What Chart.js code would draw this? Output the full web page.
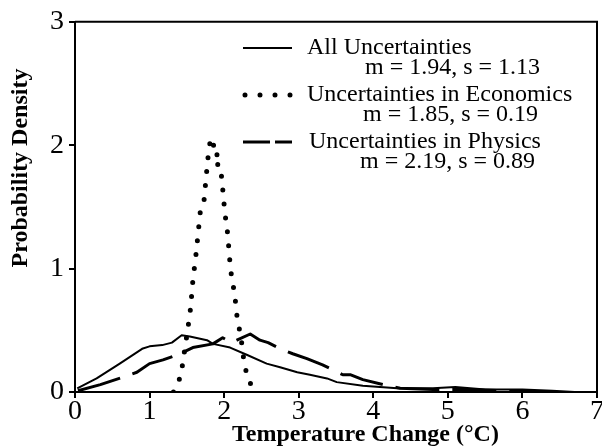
<!DOCTYPE html>
<html>
<head>
<meta charset="utf-8">
<title>Probability Density</title>
<script src="https://cdn.jsdelivr.net/npm/chart.js@4.4.1/dist/chart.umd.min.js"></script>
<style>
    html, body { margin: 0; padding: 0; background: #fff; }
    .chart-wrapper { position: relative; width: 602px; height: 448px; }
</style>
</head>
<body>
<div class="chart-wrapper">
    <canvas id="densityChart" width="602" height="448"></canvas>
</div>
<script>
/* ======= Данные ======= */
const seriesNames = ["All Uncertainties", "Uncertainties in Economics", "Uncertainties in Physics"];
const seriesMeans = [1.94, 1.85, 2.19];
const seriesSds = [1.13, 0.19, 0.89];

const xTicks = [0, 1, 2, 3, 4, 5, 6, 7];
const yTicks = [0, 1, 2, 3];
const xTitle = "Temperature Change (°C)";
const yTitle = "Probability Density";

// все неопределённости: [температура, плотность]
const allPoints = [
    [0.03, 0.03], [0.29, 0.11], [0.60, 0.23], [0.90, 0.35], [1.00, 0.37], [1.17, 0.38],
    [1.30, 0.40], [1.43, 0.46], [1.54, 0.45], [1.77, 0.42], [1.85, 0.39], [2.08, 0.36],
    [2.31, 0.30], [2.57, 0.23], [2.75, 0.20], [2.98, 0.16], [3.15, 0.14], [3.38, 0.11],
    [3.51, 0.08], [3.86, 0.05], [4.32, 0.03], [4.80, 0.03], [5.10, 0.04], [5.50, 0.02],
    [6.00, 0.02], [6.40, 0.01], [6.70, 0.00]
];

// только экономика
const econPoints = [
    [1.32, 0.00], [1.42, 0.13], [1.46, 0.30], [1.51, 0.50], [1.55, 0.68], [1.58, 0.90],
    [1.62, 1.10], [1.66, 1.34], [1.68, 1.46], [1.73, 1.55], [1.76, 1.75], [1.79, 1.94],
    [1.82, 2.06], [1.87, 1.98], [1.84, 1.93], [1.92, 1.92], [1.87, 1.85], [1.95, 1.84],
    [1.98, 1.65], [2.01, 1.45], [2.05, 1.27], [2.07, 1.10], [2.10, 0.93], [2.14, 0.80],
    [2.18, 0.57], [2.22, 0.47], [2.27, 0.23], [2.31, 0.13], [2.40, 0.00]
];

// только физика
const physPoints = [
    [0.04, 0.01], [0.34, 0.06], [0.64, 0.12], [0.83, 0.16], [1.00, 0.23], [1.18, 0.26],
    [1.41, 0.31], [1.58, 0.36], [1.85, 0.39], [1.98, 0.44], [2.10, 0.40], [2.17, 0.42],
    [2.35, 0.47], [2.48, 0.42], [2.59, 0.40], [2.75, 0.35], [2.92, 0.31], [3.11, 0.27],
    [3.32, 0.22], [3.46, 0.18], [3.59, 0.14], [3.69, 0.14], [3.86, 0.10], [4.13, 0.06],
    [4.36, 0.03], [4.80, 0.02], [5.30, 0.02], [5.80, 0.01], [6.30, 0.00]
];

const SERIF = "'Liberation Serif', 'Times New Roman', serif";

document.addEventListener("DOMContentLoaded", () => {
    const toXY = arr => arr.map(p => ({ x: p[0], y: p[1] }));

    const lineStyles = [
        { borderWidth: 2, borderDash: [], borderCapStyle: 'butt' },
        { borderWidth: 5, borderDash: [0, 14], borderCapStyle: 'round' },
        { borderWidth: 3, borderDash: [44, 13], borderCapStyle: 'butt' }
    ];

    // рамка сверху и справа, подписи осей и легенда
    const framePlugin = {
        id: 'frameAndLegend',
        afterDraw(chart) {
            const { ctx, chartArea } = chart;
            ctx.save();
            ctx.strokeStyle = '#000';
            ctx.lineWidth = 2;
            ctx.beginPath();
            ctx.moveTo(chartArea.left, chartArea.top);
            ctx.lineTo(chartArea.right, chartArea.top);
            ctx.lineTo(chartArea.right, chartArea.bottom);
            ctx.stroke();

            // подпись оси X
            ctx.fillStyle = '#000';
            ctx.font = "bold 24px " + SERIF;
            ctx.textAlign = 'left';
            ctx.textBaseline = 'alphabetic';
            ctx.fillText(xTitle, 232, 441);

            // подпись оси Y
            ctx.textAlign = 'center';
            ctx.textBaseline = 'middle';
            ctx.translate(21, 168);
            ctx.rotate(-Math.PI / 2);
            ctx.fillText(yTitle, 0, 0);
            ctx.restore();

            // легенда
            ctx.save();
            ctx.fillStyle = '#000';
            ctx.strokeStyle = '#000';
            ctx.font = "24px " + SERIF;
            ctx.textBaseline = 'alphabetic';
            ctx.textAlign = 'left';
            const nameX = [307, 307, 309];
            const statX = [365, 363, 360];
            seriesNames.forEach((name, i) => {
                const y = 48 + i * 47;
                const st = lineStyles[i];
                ctx.lineWidth = st.borderWidth;
                ctx.lineCap = st.borderCapStyle;
                ctx.setLineDash(i === 2 ? [27, 5] : (i === 1 ? [0, 15] : []));
                ctx.beginPath();
                ctx.moveTo(i === 1 ? 245 : 243, y);
                ctx.lineTo(i === 1 ? 291 : 292, y);
                ctx.stroke();
                ctx.setLineDash([]);
                ctx.fillText(name, nameX[i], y + 6);
                ctx.fillText("m = " + seriesMeans[i].toFixed(2) + ", s = " + seriesSds[i].toFixed(2), statX[i], y + 26);
            });
            ctx.restore();
        }
    };

    const canvas = document.getElementById('densityChart');
    const ctx = canvas.getContext('2d');

    new Chart(ctx, {
        type: 'line',
        data: {
            datasets: [allPoints, econPoints, physPoints].map((pts, i) => ({
                label: seriesNames[i],
                data: toXY(pts),
                borderColor: '#000',
                borderWidth: lineStyles[i].borderWidth,
                borderDash: lineStyles[i].borderDash,
                borderCapStyle: lineStyles[i].borderCapStyle,
                borderJoinStyle: 'round',
                pointRadius: 0,
                tension: 0,
                fill: false
            }))
        },
        options: {
            responsive: false,
            animation: false,
            layout: { padding: { top: 19, right: 5, left: 0, bottom: 0 } },
            plugins: {
                legend: { display: false },
                tooltip: { enabled: false }
            },
            scales: {
                x: {
                    type: 'linear',
                    min: xTicks[0],
                    max: xTicks[xTicks.length - 1],
                    afterBuildTicks: s => { s.ticks = xTicks.map(v => ({ value: v })); },
                    afterFit: s => { s.height = 56; },
                    grid: { drawOnChartArea: false, drawTicks: true, tickLength: 6, color: '#000', lineWidth: 2 },
                    border: { display: true, color: '#000', width: 2 },
                    ticks: { color: '#000', padding: -3, font: { family: SERIF, size: 28 } }
                },
                y: {
                    min: yTicks[0],
                    max: yTicks[yTicks.length - 1],
                    afterBuildTicks: s => { s.ticks = yTicks.map(v => ({ value: v })); },
                    afterFit: s => { s.width = 75; },
                    grid: { drawOnChartArea: false, drawTicks: true, tickLength: 6, color: '#000', lineWidth: 2 },
                    border: { display: true, color: '#000', width: 2 },
                    ticks: { color: '#000', padding: 5, font: { family: SERIF, size: 28 } }
                }
            }
        },
        plugins: [framePlugin]
    });
});
</script>
</body>
</html>
